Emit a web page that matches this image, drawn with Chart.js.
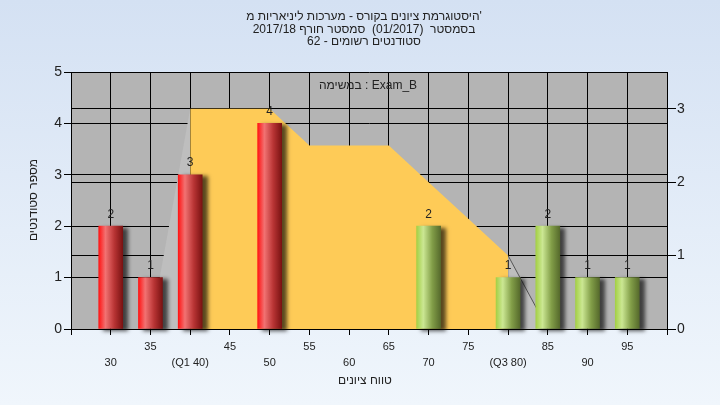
<!DOCTYPE html>
<html>
<head>
<meta charset="utf-8">
<script src="https://cdn.jsdelivr.net/npm/chart.js@4.4.1/dist/chart.umd.min.js"></script>
<style>
  html, body { margin: 0; padding: 0; }
  body { width: 720px; height: 405px; background: linear-gradient(#d4e1f3, #f0f6fc); overflow: hidden; }
  canvas { display: block; }
</style>
</head>
<body>
<canvas id="histChart" width="720" height="405"></canvas>
<script>
// נתוני ההיסטוגרמה
var barX = [30, 35, 40, 50, 70, 80, 85, 90, 95];
var barY = [2, 1, 3, 4, 2, 1, 2, 1, 1];
var barTone = ['red', 'red', 'red', 'red', 'green', 'green', 'green', 'green', 'green'];

// שטח ההתפלגות (ציר ימני)
var areaX = [35, 40, 45, 50, 55, 60, 65, 70, 75, 80, 85];
var areaY = [0, 3, 3, 3, 2.5, 2.5, 2.5, 2, 1.5, 1, 0];
var q1 = 40, q3 = 80;

// תוויות ציר X
var tickValues = [30, 35, 40, 45, 50, 55, 60, 65, 70, 75, 80, 85, 90, 95];
var tickLabels = ['30', '35', '(Q1 40)', '45', '50', '55', '60', '65', '70', '75', '(Q3 80)', '85', '90', '95'];

var titleLines = [
  "היסטוגרמת ציונים בקורס - מערכות ליניאריות מ'",
  'בסמסטר  (01/2017)  סמסטר חורף 2017/18',
  'סטודנטים רשומים - 62'
];
var infoText = 'במשימה : Exam_B';
var xTitle = 'טווח ציונים';
var yTitle = 'מספר סטודנטים';

var fontFamily = "'Liberation Sans', 'DejaVu Sans', sans-serif";
Chart.defaults.font.family = fontFamily;
Chart.defaults.color = '#222';

var tones = {
  red: ['#ff1414', '#f27272', '#b83434', '#7a1212'],
  green: ['#a4d046', '#cbe793', '#829e48', '#566a2c']
};

function pts(xs, ys, keep) {
  return xs.map(function (x, i) {
    return { x: x, y: keep(x) ? ys[i] : null };
  });
}

var yellowData = pts(areaX, areaY, function (x) { return x >= q1 && x <= q3; });
var grayData = pts(areaX, areaY, function (x) { return x <= q1 || x >= q3; });
var barData = barX.map(function (x, i) { return { x: x, y: barY[i] }; });

var plotBg = {
  id: 'plotBg',
  beforeDraw: function (chart) {
    var a = chart.chartArea, c = chart.ctx;
    c.save();
    c.fillStyle = '#b4b4b4';
    c.fillRect(a.left, a.top, a.right - a.left, a.bottom - a.top);
    c.restore();
  }
};

// צל וגרדיאנט גלילי לעמודות
var barLook = {
  id: 'barLook',
  beforeDatasetDraw: function (chart, args) {
    if (args.meta.type !== 'bar') return;
    var c = chart.ctx;
    args.meta.data.forEach(function (el, i) {
      var g = c.createLinearGradient(el.x - el.width / 2, 0, el.x + el.width / 2, 0);
      var t = tones[barTone[i]];
      g.addColorStop(0, t[0]);
      g.addColorStop(0.28, t[1]);
      g.addColorStop(0.65, t[2]);
      g.addColorStop(1, t[3]);
      el.options.backgroundColor = g;
    });
    c.save();
    c.shadowColor = 'rgba(0,0,0,0.65)';
    c.shadowBlur = 4;
    c.shadowOffsetX = 5;
    c.shadowOffsetY = 2;
  },
  afterDatasetDraw: function (chart, args) {
    if (args.meta.type !== 'bar') return;
    chart.ctx.restore();
  }
};

var texts = {
  id: 'texts',
  afterDraw: function (chart) {
    var c = chart.ctx;
    c.save();
    c.fillStyle = '#222';
    c.textAlign = 'center';
    c.textBaseline = 'middle';
    c.font = '12px ' + fontFamily;
    titleLines.forEach(function (t, i) {
      c.fillText(t, 364, 17 + i * 12.5);
    });
    c.fillText(infoText, 368, 86);
    c.fillText(xTitle, 365, 381);

    // ערכי העמודות
    var meta = chart.getDatasetMeta(2);
    meta.data.forEach(function (bar, i) {
      c.fillText(String(barY[i]), bar.x, bar.y - 12);
    });

    c.translate(34, 200);
    c.rotate(-Math.PI / 2);
    c.fillText(yTitle, 0, 0);
    c.restore();
  }
};

var ctx = document.getElementById('histChart').getContext('2d');
var histChart = new Chart(ctx, {
  type: 'bar',
  data: {
    datasets: [{
      type: 'line',
      data: yellowData,
      yAxisID: 'y2',
      backgroundColor: '#fecb57',
      borderWidth: 0,
      pointRadius: 0,
      fill: 'origin',
      tension: 0,
      spanGaps: false,
      order: 2
    }, {
      type: 'line',
      data: grayData,
      yAxisID: 'y2',
      backgroundColor: '#bebebe',
      borderWidth: 1,
      borderColor: '#555',
      segment: {
        borderColor: function (s) { return s.p0.parsed.x >= q3 ? '#555' : 'rgba(0,0,0,0)'; }
      },
      pointRadius: 0,
      fill: 'origin',
      tension: 0,
      spanGaps: false,
      order: 3
    }, {
      type: 'bar',
      data: barData,
      yAxisID: 'y',
      barThickness: 24,
      clip: false,
      order: 1,
      backgroundColor: function (c) {
        return c.dataIndex !== undefined && barTone[c.dataIndex] === 'green' ? '#a4d046' : '#ff1414';
      }
    }]
  },
  options: {
    responsive: false,
    animation: false,
    layout: { padding: { top: 72 } },
    plugins: {
      legend: { display: false },
      tooltip: { enabled: false }
    },
    scales: {
      x: {
        type: 'linear',
        offset: false,
        min: 25,
        max: 100,
        afterFit: function (s) { s.height = 76; },
        grid: { color: '#000', tickColor: '#000', tickLength: 6, offset: false },
        border: { color: '#000' },
        ticks: {
          stepSize: 5,
          autoSkip: false,
          maxRotation: 0,
          padding: 4,
          color: '#222',
          font: { size: 11, lineHeight: 1.45 },
          callback: function (v) {
            var i = tickValues.indexOf(v);
            if (i < 0) return '';
            return i % 2 === 0 ? ['', tickLabels[i]] : [tickLabels[i], ''];
          }
        }
      },
      y: {
        position: 'left',
        min: 0,
        max: 5,
        afterFit: function (s) { s.width = 71; },
        grid: { color: '#000', tickColor: '#000', tickLength: 7 },
        border: { color: '#000' },
        ticks: { stepSize: 1, padding: 2, color: '#222', font: { size: 14 } }
      },
      y2: {
        position: 'right',
        min: 0,
        max: 3.5,
        afterFit: function (s) { s.width = 53; },
        afterBuildTicks: function (s) {
          s.ticks = s.ticks.filter(function (t) { return Number.isInteger(t.value); });
        },
        grid: { color: '#000', tickColor: '#000', tickLength: 9 },
        border: { color: '#000' },
        ticks: { stepSize: 1, padding: 1, color: '#222', font: { size: 14 } }
      }
    }
  },
  plugins: [plotBg, barLook, texts]
});
</script>
</body>
</html>
